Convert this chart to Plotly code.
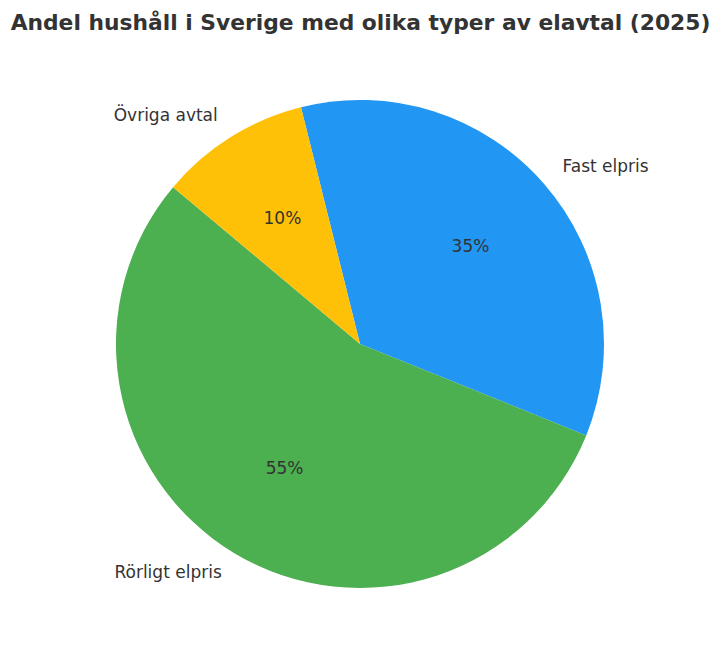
import math
import plotly.graph_objects as go

labels = ["Fast elpris", "Rörligt elpris", "Övriga avtal"]
values = [35, 55, 10]
colors = ["#2196F3", "#4CAF50", "#FFC107"]
start_angle = 104  # degrees, counter-clockwise from 3 o'clock; slices go clockwise

W, H = 721, 661
r_max = 1.12                      # radial axis range (pie radius = 1)
cx, cy, r = 360, 344, 244 * r_max  # pixel centre / subplot radius
dom_x = [(cx - r) / W, (cx + r) / W]
dom_y = [1 - (cy + r) / H, 1 - (cy - r) / H]

total = sum(values)
spans = [v / total * 360 for v in values]
mid_angles = []
acc = 0
for s in spans:
    mid_angles.append(start_angle - acc - s / 2)
    acc += s
pct_text = [f"{v / total:.0%}" for v in values]
label_pos = ["middle right" if math.cos(math.radians(a)) > 0 else "middle left" for a in mid_angles]

fig = go.Figure()
fig.add_trace(go.Barpolar(
    r=[1] * len(values), theta=mid_angles, width=spans, base=0,
    marker=dict(color=colors, line=dict(width=0)),
    text=labels, customdata=pct_text,
    hovertemplate="%{text}: %{customdata}<extra></extra>",
    showlegend=False,
))
fig.add_trace(go.Scatterpolar(
    r=[0.6] * len(values), theta=mid_angles, mode="text", text=pct_text,
    textposition="middle center", cliponaxis=False,
    textfont=dict(family="DejaVu Sans", size=17, color="#333333"),
    showlegend=False, hoverinfo="skip",
))
fig.add_trace(go.Scatterpolar(
    r=[1.1] * len(values), theta=mid_angles, mode="text", text=labels,
    textposition=label_pos, cliponaxis=False,
    textfont=dict(family="DejaVu Sans", size=17, color="#333333"),
    showlegend=False, hoverinfo="skip",
))
fig.update_layout(
    width=W, height=H,
    margin=dict(l=0, r=0, t=0, b=0),
    paper_bgcolor="white", plot_bgcolor="white",
    polar=dict(
        domain=dict(x=dom_x, y=dom_y), bgcolor="rgba(0,0,0,0)",
        radialaxis=dict(range=[0, r_max], visible=False, showgrid=False),
        angularaxis=dict(visible=False, showgrid=False, direction="counterclockwise", rotation=0),
        bargap=0,
    ),
    title=dict(text="<b>Andel hushåll i Sverige med olika typer av elavtal (2025)</b>",
               x=0.5, xanchor="center", y=1 - 22 / H, yanchor="middle",
               font=dict(family="DejaVu Sans", size=21.8, color="#333333")),
)
fig.write_html("out.html", config={"displayModeBar": False},
               post_script="document.body.style.margin='0';document.body.style.overflow='hidden';")
